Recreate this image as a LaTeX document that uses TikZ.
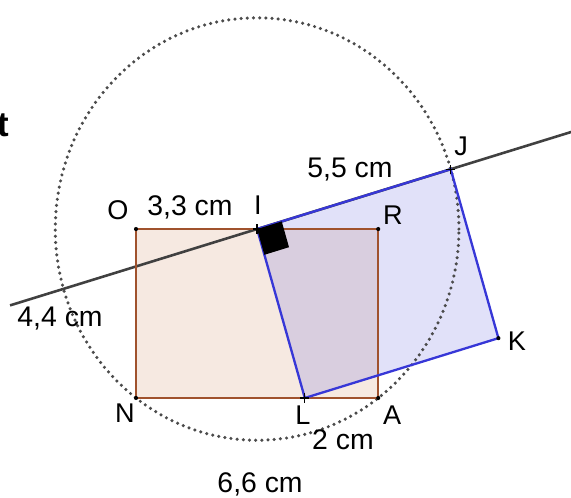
\documentclass[tikz,border=0pt]{standalone}
\usepackage{fontspec}
\setmainfont{Liberation Sans}
\usepackage{xcolor}
\definecolor{rectbrown}{RGB}{160,82,45}
\definecolor{rectpeach}{RGB}{246,233,225}
\definecolor{sqblue}{RGB}{55,55,215}
\definecolor{linegray}{RGB}{64,64,64}
\definecolor{dotgray}{RGB}{75,75,75}
\usepackage{tikz}
\usetikzlibrary{calc}
\newcommand{\plusmark}[1]{\draw[black, line width=1pt] ($(#1)+(-0.12,0)$) -- ($(#1)+(0.12,0)$) ($(#1)+(0,-0.12)$) -- ($(#1)+(0,0.12)$);}

\begin{document}
\begin{tikzpicture}[x=1cm, y=1.0463cm,
    lbl/.style={font=\fontsize{21}{23}\selectfont, inner sep=0pt},
    len/.style={font=\fontsize{22}{24}\selectfont, inner sep=0pt},
    rectline/.style={draw=rectbrown, line width=1.8pt},
    sqline/.style={draw=sqblue, line width=1.8pt},
    circ/.style={draw=dotgray, line width=2.7pt, dash pattern=on 0pt off 4.8pt, line cap=round}]
    \useasboundingbox (-3.706,-2.604) rectangle (11.853,10.365);
    % points
    \coordinate (N) at (0,0);
    \coordinate (A) at (6.6,0);
    \coordinate (R) at (6.6,4.4);
    \coordinate (O) at (0,4.4);
    \coordinate (I) at (3.3,4.4);
    \coordinate (L) at (4.6,0);
    \coordinate (J) at ($(I)+(5.275,1.558)$);
    \coordinate (K) at ($(L)+(5.275,1.558)$);
    % fills
    \fill[rectpeach] (O) -- (R) -- (A) -- (N) -- cycle;
    \fill[sqblue, fill opacity=0.15] (I) -- (L) -- (K) -- (J) -- cycle;
    % circle centre I through N and J
    \draw[circ] (I) circle[x radius=5.5cm, y radius=5.755cm];
    % line (IJ)
    \draw[linegray, line width=2pt] ($(I)!-1.276!(J)$) -- ($(I)!1.7!(J)$);
    % borders
    \draw[rectline] (O) -- (R) -- (A) -- (N) -- cycle;
    \draw[sqline] (I) -- (L) -- (K) -- (J) -- cycle;
    % right angle
    \fill[black] (I) -- ++(0.198,-0.671) -- ++(0.671,0.198) -- ++(-0.198,0.671) -- cycle;
    \foreach \p in {O,R,N,A,K} \fill[black] (\p) circle (1.6pt);
    \plusmark{I} \plusmark{L} \plusmark{J}
    % labels
    \node[lbl] (lO) at (-0.49,4.90) {O};
    \node[lbl] (lI) at (3.32,5.03) {I};
    \node[lbl] (lR) at (7.00,4.77) {R};
    \node[lbl] (lJ) at (8.86,6.56) {J};
    \node[lbl] (lK) at (10.38,1.48) {K};
    \node[lbl] (lN) at (-0.30,-0.39) {N};
    \node[lbl] (lL) at (4.55,-0.44) {L};
    \node[lbl] (lA) at (6.98,-0.44) {A};
    \node[len] (dOI) at (1.47,4.97) {3,3 cm};
    \node[len] (dIJ) at (5.83,5.94) {5,5 cm};
    \node[len] (dON) at (-2.07,2.08) {4,4 cm};
    \node[len] (dLA) at (5.64,-1.09) {2 cm};
    \node[len] (dNA) at (3.38,-2.24) {6,6 cm};
    \node[font=\fontsize{27}{29}\selectfont\bfseries, anchor=base east, inner sep=0pt] (tcut) at (-3.46,6.80) {t};
\end{tikzpicture}
\end{document}
